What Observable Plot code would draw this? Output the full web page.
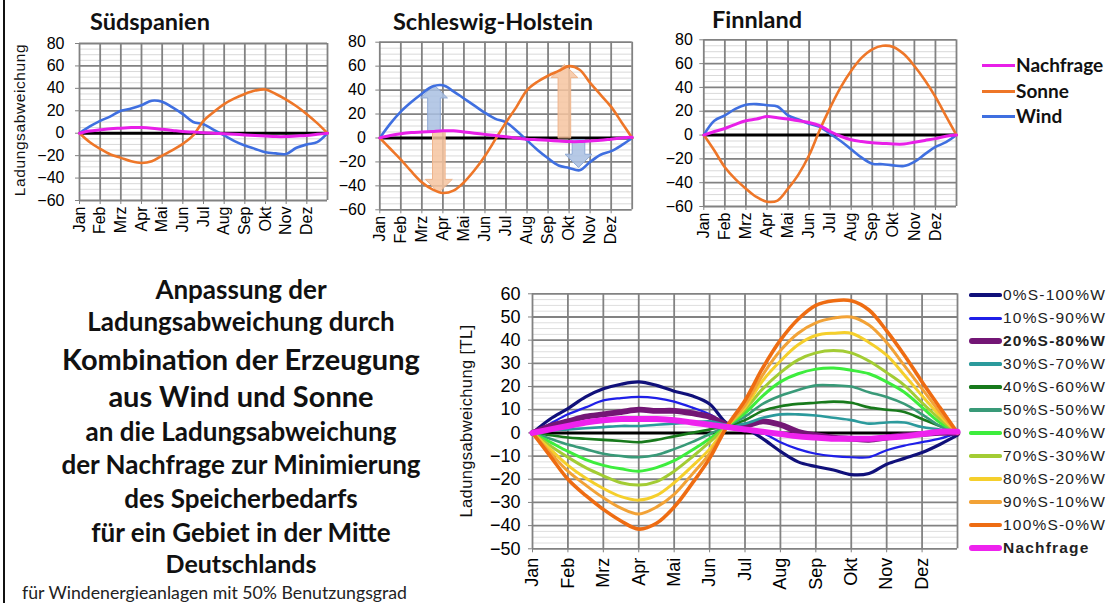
<!DOCTYPE html>
<html><head><meta charset="utf-8">
<script src="https://cdn.jsdelivr.net/npm/d3@7"></script>
<script src="https://cdn.jsdelivr.net/npm/@observablehq/plot@0.6"></script>
<style>
body{margin:0;background:#fff;}
#page{position:relative;width:1111px;height:603px;overflow:hidden;background:#fff;font-family:Arial,"Liberation Sans",sans-serif;}
.ttl{position:absolute;font-family:Lato,sans-serif;font-weight:700;font-size:23.5px;color:#111;white-space:nowrap;line-height:1;}
.blk{position:absolute;left:0;width:482px;text-align:center;font-family:Lato,sans-serif;font-weight:700;color:#111;white-space:nowrap;line-height:1;}
.lg{position:absolute;white-space:nowrap;line-height:1;}
.vlab{position:absolute;transform:translate(-50%,-50%) rotate(-90deg);white-space:nowrap;font-family:Arial,"Liberation Sans",sans-serif;color:#111;line-height:1;}
</style></head><body><div id="page"></div><script>
const MONTHS = ["Jan","Feb","Mrz","Apr","Mai","Jun","Jul","Aug","Sep","Okt","Nov","Dez"];
const XS = [0,0.5,1,1.5,2,2.5,3,3.5,4,4.5,5,5.5,6,6.5,7,7.5,8,8.5,9,9.5,10,10.5,11,11.5,12];

// Top panels
const TOP_SERIES = ["Nachfrage","Sonne","Wind"];
const spSonne = [0,-8,-14,-19,-22,-25,-26.5,-25,-20,-15,-9.5,-2,11,19,26,31,35,38,39,35,30,24,17,9,0];
const spWind  = [0,6,11,15,20,22,25,29,28,23,17,10,8,3,-2,-7,-11,-14,-17,-18,-18.5,-13,-10,-8,0];
const spNach  = [0,2,3,4,4.5,5,5,4.5,3.5,2.5,1.5,1,0.5,0,-0.5,-1,-1.5,-2,-2.5,-3,-3,-2.5,-2,-1,0];
const shSonne = [0,-9,-18,-28,-37,-43,-46,-44,-37,-27,-15,-1,13,26,40,47,52,56,60,57,46,36,26,13,0];
const shWind  = [0,12,22,30,37,43,44,39,33,27,21,16,13,6,-2,-10,-17,-23,-25,-27,-20,-14,-11,-6,0];
const shNach  = [0,2,3.5,4.5,5,5.5,6,6,5,4,3,2,1,0,-1,-1.5,-2,-2.5,-3,-3,-2.5,-2,-1,0,0.5];
const fiSonne = [0,-13,-27,-37,-45,-52,-56,-55,-45,-33,-17,4,23,40,54,65,72,75,74,68,58,46,32,16,0];
const fiWind  = [0,12,16.5,22,25.5,26,25,24,16.5,13,9.5,7,1,-5,-12,-19,-24,-24.5,-25.5,-26,-22.5,-16,-10,-6,0];
const fiNach  = [0,3,5.5,9,12,13.5,15.5,14.5,13.5,12,10.5,8,3,-1,-4,-5.5,-6.5,-7,-7.5,-7.5,-6,-4.5,-3,-1,0];
const TOP_Y_TICKS = [-60,-40,-20,0,20,40,60,80];
// Schleswig-Holstein annotation arrows: month position, start value, tip value
const shArrowKind = ["Wind","Sonne","Sonne","Wind"];
const shArrowX    = [2.6, 2.83, 8.8, 9.47];
const shArrowFrom = [5, 5, 0, -2];
const shArrowTo   = [44, -46, 61, -25];

// Bottom panel
const MIX_NAMES = ["0%S-100%W","10%S-90%W","20%S-80%W","30%S-70%W","40%S-60%W","50%S-50%W","60%S-40%W","70%S-30%W","80%S-20%W","90%S-10%W","100%S-0%W","Nachfrage"];
const mix0   = [0,6,10.5,15.5,19,21,22,20.5,18,16,12.5,4,2,-2.5,-8,-12.5,-14.5,-16,-18,-17.5,-13.5,-11,-8.5,-5,-1];
const mix10  = [0,4,8,11,14,15,15.5,15,13.5,11,8,3.5,2,0,-4,-7,-9,-10,-10.5,-10.5,-7.5,-5.5,-4,-2.5,0];
const mix20  = [0,3,5,7,8,9,10,9.5,9.5,8.5,7,3.5,3,5,3.5,0.5,-1,-2,-2.5,-3,-2,-1,-0.5,0,0];
const mix30  = [0,1,1.5,2,2.5,3,3,3.5,4,4.5,5,3.5,4,6.5,8,8,7.5,6.5,5.5,4,4.5,4.5,2.5,1.5,0];
const mix40  = [0,-1,-2,-2.5,-3,-3.5,-4,-3,-1.5,0,1.5,3,5.5,9.5,11.5,12.5,13,13.5,13,11,10,9,6,3,0];
const mix50  = [0,-2.5,-5,-7,-9,-10,-10.5,-9.5,-7,-4,-0.5,3,7,12.5,16,18.5,20.5,20.5,20,17.5,15.5,12.5,8,3,0];
const mix60  = [0,-4,-8,-11.5,-14,-15.5,-16.5,-15,-12,-7.5,-2.5,3,8.5,16,22,25.5,27.5,28,27,25.5,22,17.5,11,4.5,0];
const mix70  = [0,-5.5,-10.5,-15,-18.5,-21.5,-22.5,-21,-16.5,-10.5,-4,3,10,19,26,31.5,34.5,35.5,34.5,31,26,20.5,13,6,0];
const mix80  = [0,-7,-14,-19.5,-24,-27.5,-29,-27,-21.5,-14.5,-7,3,11,22.5,31,38,42,43,43,39,33.5,25,16,7.5,0];
const mix90  = [0,-8.5,-16.5,-22.5,-28,-32.5,-35,-32,-26.5,-18,-9,3,12,25,35.5,43,47.5,49.5,50,46.5,39,29,19,9,0];
const mix100 = [0,-10,-20,-27,-33,-38,-41.5,-39,-32,-22,-11,3,14,28,40,49,55,57,57,53,44,33.5,22,11,0];
const mixNach= [0,1.5,3,4.5,5.5,6,6,6,5.5,4.5,3.5,2.5,1.5,0.5,-0.5,-1.5,-2,-2.5,-2.5,-2.5,-2,-1.5,-0.5,0.5,0.5];
const BOTTOM_Y_TICKS = [-50,-40,-30,-20,-10,0,10,20,30,40,50,60];

// ---------- styles ----------
const TOP_COLORS = {Nachfrage:"#e81fe8", Sonne:"#ee7628", Wind:"#3f6fe0"};
const MIX_COLORS = ["#10107a","#1f1fe8","#731675","#2b9a9c","#187a1c","#399a78","#3ded3d","#a3cc34","#f5cf2c","#f2a236","#ee6c12","#ee22ee"];
const MIX_WIDTH  = [3.2,2.2,5.8,2.6,2.6,2.6,3,3,3,3,3.6,6];
const ARROW_FILL = {Wind:"#a9c0e2", Sonne:"#f6c4a0"};
const ARROW_STROKE = {Wind:"#8fa9d4", Sonne:"#eeb48c"};
const GRID = "#828282";

const page = document.getElementById("page");
const toRows = vals => XS.map((m,i)=>({m, v: vals[i]}));
const monthEdges = d3.range(0, 13);
const monthIdx = d3.range(0, 12);

function place(el, left, top){ el.style.position="absolute"; el.style.left=left+"px"; el.style.top=top+"px"; page.appendChild(el); }

function arrowShape(x, from, to){
  const s = 0.3, h = 0.64, hl = 11;
  const dir = to > from ? 1 : -1;
  const base = to - dir*hl;
  return [
    {y: from, x1: x-s, x2: x+s},
    {y: base, x1: x-s, x2: x+s},
    {y: base, x1: x-h, x2: x+h},
    {y: to, x1: x, x2: x}
  ];
}

function topPanel(o){
  const marks = [
    Plot.ruleY(d3.range(-60, 81, 5).filter(v=>v%20!==0), {stroke:"#d9d9d9", strokeWidth:1}),
    Plot.ruleY(TOP_Y_TICKS, {stroke:GRID, strokeWidth:1.8}),
    Plot.ruleX(monthEdges, {stroke:GRID, strokeWidth:1.8}),
    Plot.axisY(TOP_Y_TICKS, {tickSize:4, tickPadding:o.pad, fontSize:16, stroke:GRID, fill:"#000", label:null}),
    Plot.axisX(monthIdx, {tickSize:4, tickPadding:2, tickRotate:-90, tickFormat:i=>MONTHS[i], fontSize:16, stroke:GRID, fill:"#000", label:null}),
    Plot.ruleY([0], {stroke:"#000", strokeWidth:3})
  ];
  (o.arrows||[]).forEach(a=>{
    marks.push(Plot.areaX(arrowShape(a.x, a.from, a.to), {y:"y", x1:"x1", x2:"x2", fill:ARROW_FILL[a.kind], fillOpacity:0.85, stroke:ARROW_STROKE[a.kind], strokeWidth:1, curve:"linear"}));
  });
  const vals = {Nachfrage:o.nach, Sonne:o.sonne, Wind:o.wind};
  ["Wind","Sonne","Nachfrage"].forEach(k=>{
    marks.push(Plot.line(toRows(vals[k]), {x:"m", y:"v", stroke:TOP_COLORS[k], strokeWidth:k==="Nachfrage"?3:2.6, curve:"catmull-rom", strokeLinejoin:"round"}));
  });
  const svg = Plot.plot({
    width:o.w, height:o.h, marginLeft:o.ml, marginRight:o.mr, marginTop:o.mt, marginBottom:o.mb,
    style:{background:"transparent", fontFamily:"Arial, 'Liberation Sans', sans-serif", color:"#111", overflow:"visible"},
    x:{domain:[0,12]}, y:{domain:[-60,80]},
    marks
  });
  place(svg, o.left, o.top);
}

topPanel({left:0, top:0, w:340, h:240, ml:79, mr:13, mt:43, mb:40, pad:11, sonne:spSonne, wind:spWind, nach:spNach});
const shArrows = shArrowKind.map((k,i)=>({kind:k, x:shArrowX[i], from:shArrowFrom[i], to:shArrowTo[i]}));
topPanel({left:330, top:0, w:320, h:245, ml:49.3, mr:18.3, mt:41.7, mb:35.7, pad:10, sonne:shSonne, wind:shWind, nach:shNach, arrows:shArrows});
topPanel({left:640, top:0, w:330, h:245, ml:63.3, mr:14, mt:39.3, mb:39, pad:7, sonne:fiSonne, wind:fiWind, nach:fiNach});

// Bottom panel
(function(){
  const series = [mix0,mix10,mix20,mix30,mix40,mix50,mix60,mix70,mix80,mix90,mix100,mixNach];
  const marks = [
    Plot.ruleY(d3.range(-50, 61, 2.5).filter(v=>v%10!==0), {stroke:"#dedede", strokeWidth:1}),
    Plot.ruleY(BOTTOM_Y_TICKS, {stroke:GRID, strokeWidth:1.8}),
    Plot.ruleX(monthEdges, {stroke:GRID, strokeWidth:1.8}),
    Plot.axisY(BOTTOM_Y_TICKS, {tickSize:4, tickPadding:8, fontSize:18, stroke:GRID, fill:"#000", label:null}),
    Plot.axisX(monthIdx, {tickSize:4, tickPadding:5, tickRotate:-90, tickFormat:i=>MONTHS[i], fontSize:18, stroke:GRID, fill:"#000", label:null}),
    Plot.ruleY([0], {stroke:"#000", strokeWidth:3})
  ];
  series.forEach((s,i)=>{
    marks.push(Plot.line(toRows(s), {x:"m", y:"v", stroke:MIX_COLORS[i], strokeWidth:MIX_WIDTH[i], curve:"catmull-rom", strokeLinejoin:"round"}));
  });
  const svg = Plot.plot({
    width:515, height:323, marginLeft:82, marginRight:8, marginTop:13.3, marginBottom:54.7,
    style:{background:"transparent", fontFamily:"Arial, 'Liberation Sans', sans-serif", color:"#111", overflow:"visible"},
    x:{domain:[0,12]}, y:{domain:[-50,60]},
    marks
  });
  place(svg, 450, 280);
})();

// Titles
[["Südspanien",90,10],["Schleswig-Holstein",393,10],["Finnland",712,8]].forEach(([t,x,y])=>{
  const d=document.createElement("div"); d.className="ttl"; d.textContent=t; place(d,x,y);
});

// Axis titles
function vlab(t, cx, cy, size, ls){
  const d=document.createElement("div"); d.className="vlab"; d.textContent=t;
  d.style.fontSize=size+"px"; d.style.letterSpacing=ls+"px";
  d.style.position="absolute"; d.style.left=cx+"px"; d.style.top=cy+"px"; page.appendChild(d);
}
vlab("Ladungsabweichung", 20, 120, 15.5, 0.6);
vlab("Ladungsabweichung [TL]", 466, 421, 16.5, 0.4);

// Top legend
TOP_SERIES.forEach((k,i)=>{
  const y = [65,91,116][i];
  const sw=document.createElement("div");
  sw.style.cssText=`position:absolute;left:982px;top:${y-1.5}px;width:33px;height:3px;background:${TOP_COLORS[k]}`;
  page.appendChild(sw);
  const t=document.createElement("div"); t.className="lg"; t.textContent=k;
  t.style.cssText+=";font-family:Lato,sans-serif;font-weight:700;font-size:19px;color:#111";
  place(t,1016,y-10);
});

// Bottom legend
MIX_NAMES.forEach((k,i)=>{
  const y = 295 + i*23;
  const th = Math.max(3, MIX_WIDTH[i]+0.5);
  const sw=document.createElement("div");
  sw.style.cssText=`position:absolute;left:969px;top:${y-th/2}px;width:33px;height:${th}px;border-radius:${th/2}px;background:${MIX_COLORS[i]}`;
  page.appendChild(sw);
  const t=document.createElement("div"); t.className="lg"; t.textContent=k;
  const bold = (i===2||i===11);
  t.style.cssText+=`;font-size:15.5px;letter-spacing:1.2px;color:#222;font-weight:${bold?700:400}`;
  place(t,1003,y-8);
});

// Text block
const BLOCK = [
  ["Anpassung der",290,26],
  ["Ladungsabweichung durch",322,26],
  ["Kombination der Erzeugung",360,29],
  ["aus Wind und Sonne",397,29],
  ["an die Ladungsabweichung",432,26],
  ["der Nachfrage zur Minimierung",465,26],
  ["des Speicherbedarfs",499,26],
  ["für ein Gebiet in der Mitte",533,26],
  ["Deutschlands",565,25]
];
BLOCK.forEach(([t,y,s])=>{
  const d=document.createElement("div"); d.className="blk"; d.textContent=t; d.style.fontSize=s+"px";
  d.style.top=(y-s*0.55)+"px"; page.appendChild(d);
});
const foot=document.createElement("div"); foot.textContent="für Windenergieanlagen mit 50% Benutzungsgrad";
foot.style.cssText="font-family:Lato,sans-serif;font-size:17.7px;color:#222;white-space:nowrap;line-height:1";
place(foot,22,584);

// left border
const bd=document.createElement("div"); bd.style.cssText="position:absolute;left:3px;top:0;width:2px;height:603px;background:#111";
page.appendChild(bd);
</script></body></html>
